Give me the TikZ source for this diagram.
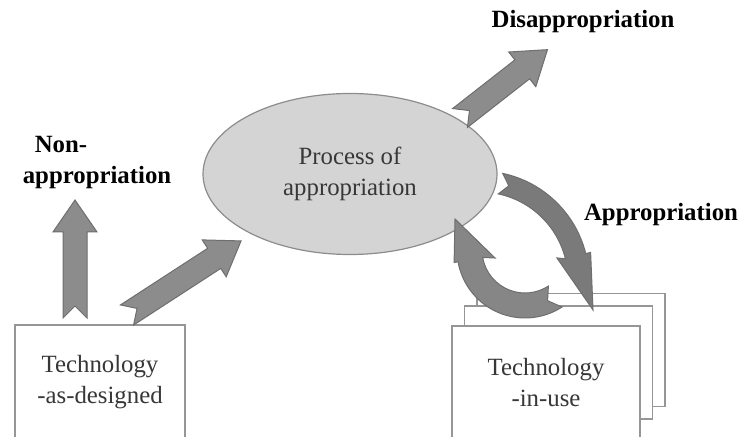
\documentclass[tikz,border=0pt]{standalone}
\usepackage{fontspec}
\setmainfont{Liberation Serif}
\usetikzlibrary{positioning,shapes.geometric,calc}

\definecolor{arrowgray}{RGB}{140,140,140}
\definecolor{arrowline}{RGB}{110,110,110}
\definecolor{cyclegray}{RGB}{122,122,122}
\definecolor{cyclegraylt}{RGB}{134,134,134}
\definecolor{ovalgray}{RGB}{212,212,212}
\definecolor{ovalline}{RGB}{140,140,140}
\definecolor{boxline}{RGB}{150,150,150}
\definecolor{textgray}{RGB}{55,55,55}

% fat arrow with notched tail: tail, angle, length
\newcommand{\fatarrow}[3]{%
	\filldraw[bigarrow, shift={#1}, rotate=#2]
		(0,-12) -- (#3-32,-12) -- (#3-32,-22) -- (#3,0) -- (#3-32,22)
		-- (#3-32,12) -- (0,12) -- (12,0) -- cycle;}

\begin{document}
\begin{tikzpicture}[
		x=0.5pt, y=0.5pt,
		every node/.style = {
			font=\fontsize{12.4}{15.5}\selectfont
			},
		tbox/.style = {
			draw=boxline, fill=white, line width=0.6pt,
			rectangle, align=center, text=textgray,
			minimum width=85pt, minimum height=57pt
			},
		ubox/.style = {
			tbox, minimum width=94pt, minimum height=56.5pt
			},
		oval/.style = {
			draw=ovalline, fill=ovalgray, line width=0.6pt,
			ellipse, align=center, text=textgray,
			minimum width=147pt, minimum height=80.5pt
			},
		label/.style = {
			font=\fontsize{12.4}{15.5}\selectfont\bfseries, align=left
			},
		bigarrow/.style = {
			fill=arrowgray, draw=arrowline, line width=0.5pt
			},
		cyclearrow/.style = {
			fill=cyclegray, draw=arrowline, line width=0.5pt
			}
		]
		\clip (0,0) rectangle (742,437);
		
		\node [oval] (proc) at (350,263) {Process of\\appropriation};
		
		\node [tbox] (design) at (100,55) {Technology\\-as-designed};
		\node [ubox] (use3) at (571,87) {};
		\node [ubox] (use2) at (558.5,74.5) {};
		\node [ubox] (use) at (546,54.5) {Technology\\-in-use};
		
		\node [label] (nonapp) at (97,274) {\hspace*{6pt}Non-\\appropriation};
		\node [label] (disapp) at (583,415) {Disappropriation};
		\node [label] (app) at (661,222) {Appropriation};
		
		\coordinate (tailnon) at (75,119);
		\coordinate (taildes) at (127,122);
		\coordinate (taildis) at (460,319);
		\coordinate (cyca) at (480,157);
		\coordinate (cycb) at (525,187);
		
		\fatarrow{(tailnon)}{90}{118}
		\fatarrow{(taildes)}{33}{136}
		\fatarrow{(taildis)}{38}{111}
		
		% cycle of appropriation
		\filldraw[cyclearrow]
			($(cyca)+(78:109)$) arc[start angle=78, end angle=14, radius=109]
			-- ($(cyca)+(14:114)$) -- ($(cyca)+(113,-30)$) -- ($(cyca)+(16:80)$)
			-- ($(cyca)+(14:88)$) arc[start angle=14, end angle=78, radius=88]
			-- ($(cyca)+(73:98.5)$) -- cycle;
		\filldraw[cyclearrow, fill=cyclegraylt]
			($(cycb)+(-57:68)$) arc[start angle=-57, end angle=-170, radius=68]
			-- ($(cycb)+(-170:72)$) -- ($(cycb)+(-70,31)$) -- ($(cycb)+(-165:31)$)
			-- ($(cycb)+(-170:43)$) arc[start angle=-170, end angle=-57, radius=43]
			-- ($(cycb)+(-66:55.5)$) -- cycle;
		
	\end{tikzpicture}
\end{document}
